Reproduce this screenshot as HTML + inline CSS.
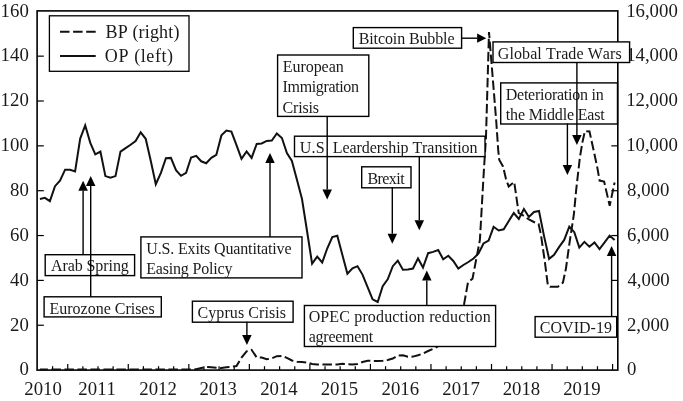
<!DOCTYPE html>
<html><head><meta charset="utf-8"><style>
html,body{margin:0;padding:0;background:#fff;}
body{width:683px;height:401px;overflow:hidden;}
svg{display:block;filter:grayscale(1);}
text{font-family:"Liberation Serif", serif;fill:#1a1a1a;font-kerning:none;}
.ax{font-size:18.8px;}
.lg{font-size:18px;}
.an{font-size:16px;}
</style></head><body>
<svg width="683" height="401" viewBox="0 0 683 401">
<rect width="683" height="401" fill="#fff"/>
<rect x="37.1" y="10.9" width="580.7" height="359.2" fill="none" stroke="#000" stroke-width="1.6"/>
<line x1="37.1" y1="325.25" x2="43.800000000000004" y2="325.25" stroke="#000" stroke-width="1.2"/>
<line x1="611.3" y1="325.25" x2="617.8" y2="325.25" stroke="#000" stroke-width="1.2"/>
<line x1="37.1" y1="280.40" x2="43.800000000000004" y2="280.40" stroke="#000" stroke-width="1.2"/>
<line x1="611.3" y1="280.40" x2="617.8" y2="280.40" stroke="#000" stroke-width="1.2"/>
<line x1="37.1" y1="235.55" x2="43.800000000000004" y2="235.55" stroke="#000" stroke-width="1.2"/>
<line x1="611.3" y1="235.55" x2="617.8" y2="235.55" stroke="#000" stroke-width="1.2"/>
<line x1="37.1" y1="190.70" x2="43.800000000000004" y2="190.70" stroke="#000" stroke-width="1.2"/>
<line x1="611.3" y1="190.70" x2="617.8" y2="190.70" stroke="#000" stroke-width="1.2"/>
<line x1="37.1" y1="145.85" x2="43.800000000000004" y2="145.85" stroke="#000" stroke-width="1.2"/>
<line x1="611.3" y1="145.85" x2="617.8" y2="145.85" stroke="#000" stroke-width="1.2"/>
<line x1="37.1" y1="101.00" x2="43.800000000000004" y2="101.00" stroke="#000" stroke-width="1.2"/>
<line x1="611.3" y1="101.00" x2="617.8" y2="101.00" stroke="#000" stroke-width="1.2"/>
<line x1="37.1" y1="56.15" x2="43.800000000000004" y2="56.15" stroke="#000" stroke-width="1.2"/>
<line x1="611.3" y1="56.15" x2="617.8" y2="56.15" stroke="#000" stroke-width="1.2"/>
<line x1="52.59" y1="370.1" x2="52.59" y2="366.20000000000005" stroke="#000" stroke-width="1.2"/>
<line x1="67.73" y1="370.1" x2="67.73" y2="363.90000000000003" stroke="#000" stroke-width="1.2"/>
<line x1="82.87" y1="370.1" x2="82.87" y2="366.20000000000005" stroke="#000" stroke-width="1.2"/>
<line x1="98.00" y1="370.1" x2="98.00" y2="366.20000000000005" stroke="#000" stroke-width="1.2"/>
<line x1="113.13" y1="370.1" x2="113.13" y2="366.20000000000005" stroke="#000" stroke-width="1.2"/>
<line x1="128.27" y1="370.1" x2="128.27" y2="363.90000000000003" stroke="#000" stroke-width="1.2"/>
<line x1="143.41" y1="370.1" x2="143.41" y2="366.20000000000005" stroke="#000" stroke-width="1.2"/>
<line x1="158.54" y1="370.1" x2="158.54" y2="366.20000000000005" stroke="#000" stroke-width="1.2"/>
<line x1="173.68" y1="370.1" x2="173.68" y2="366.20000000000005" stroke="#000" stroke-width="1.2"/>
<line x1="188.81" y1="370.1" x2="188.81" y2="363.90000000000003" stroke="#000" stroke-width="1.2"/>
<line x1="203.94" y1="370.1" x2="203.94" y2="366.20000000000005" stroke="#000" stroke-width="1.2"/>
<line x1="219.08" y1="370.1" x2="219.08" y2="366.20000000000005" stroke="#000" stroke-width="1.2"/>
<line x1="234.22" y1="370.1" x2="234.22" y2="366.20000000000005" stroke="#000" stroke-width="1.2"/>
<line x1="249.35" y1="370.1" x2="249.35" y2="363.90000000000003" stroke="#000" stroke-width="1.2"/>
<line x1="264.49" y1="370.1" x2="264.49" y2="366.20000000000005" stroke="#000" stroke-width="1.2"/>
<line x1="279.62" y1="370.1" x2="279.62" y2="366.20000000000005" stroke="#000" stroke-width="1.2"/>
<line x1="294.75" y1="370.1" x2="294.75" y2="366.20000000000005" stroke="#000" stroke-width="1.2"/>
<line x1="309.89" y1="370.1" x2="309.89" y2="363.90000000000003" stroke="#000" stroke-width="1.2"/>
<line x1="325.02" y1="370.1" x2="325.02" y2="366.20000000000005" stroke="#000" stroke-width="1.2"/>
<line x1="340.16" y1="370.1" x2="340.16" y2="366.20000000000005" stroke="#000" stroke-width="1.2"/>
<line x1="355.29" y1="370.1" x2="355.29" y2="366.20000000000005" stroke="#000" stroke-width="1.2"/>
<line x1="370.43" y1="370.1" x2="370.43" y2="363.90000000000003" stroke="#000" stroke-width="1.2"/>
<line x1="385.56" y1="370.1" x2="385.56" y2="366.20000000000005" stroke="#000" stroke-width="1.2"/>
<line x1="400.70" y1="370.1" x2="400.70" y2="366.20000000000005" stroke="#000" stroke-width="1.2"/>
<line x1="415.83" y1="370.1" x2="415.83" y2="366.20000000000005" stroke="#000" stroke-width="1.2"/>
<line x1="430.97" y1="370.1" x2="430.97" y2="363.90000000000003" stroke="#000" stroke-width="1.2"/>
<line x1="446.10" y1="370.1" x2="446.10" y2="366.20000000000005" stroke="#000" stroke-width="1.2"/>
<line x1="461.24" y1="370.1" x2="461.24" y2="366.20000000000005" stroke="#000" stroke-width="1.2"/>
<line x1="476.38" y1="370.1" x2="476.38" y2="366.20000000000005" stroke="#000" stroke-width="1.2"/>
<line x1="491.51" y1="370.1" x2="491.51" y2="363.90000000000003" stroke="#000" stroke-width="1.2"/>
<line x1="506.64" y1="370.1" x2="506.64" y2="366.20000000000005" stroke="#000" stroke-width="1.2"/>
<line x1="521.78" y1="370.1" x2="521.78" y2="366.20000000000005" stroke="#000" stroke-width="1.2"/>
<line x1="536.91" y1="370.1" x2="536.91" y2="366.20000000000005" stroke="#000" stroke-width="1.2"/>
<line x1="552.05" y1="370.1" x2="552.05" y2="363.90000000000003" stroke="#000" stroke-width="1.2"/>
<line x1="567.19" y1="370.1" x2="567.19" y2="366.20000000000005" stroke="#000" stroke-width="1.2"/>
<line x1="582.32" y1="370.1" x2="582.32" y2="366.20000000000005" stroke="#000" stroke-width="1.2"/>
<line x1="597.46" y1="370.1" x2="597.46" y2="366.20000000000005" stroke="#000" stroke-width="1.2"/>
<line x1="612.59" y1="370.1" x2="612.59" y2="363.90000000000003" stroke="#000" stroke-width="1.2"/>
<text x="19.42" y="375.4" class="ax">0</text>
<text x="10.02" y="330.55" class="ax">20</text>
<text x="10.02" y="285.7" class="ax">40</text>
<text x="10.02" y="240.85" class="ax">60</text>
<text x="10.02" y="196.0" class="ax">80</text>
<text x="0.62" y="151.15" class="ax">100</text>
<text x="0.62" y="106.3" class="ax">120</text>
<text x="0.62" y="61.45" class="ax">140</text>
<text x="0.62" y="16.6" class="ax">160</text>
<text x="627.08" y="375.4" class="ax">0</text>
<text x="626.97" y="330.55" class="ax">2,000</text>
<text x="627.43" y="285.7" class="ax">4,000</text>
<text x="626.99" y="240.85" class="ax">6,000</text>
<text x="627.08" y="196.0" class="ax">8,000</text>
<text x="626.15" y="151.15" class="ax">10,000</text>
<text x="626.15" y="106.3" class="ax">12,000</text>
<text x="626.15" y="61.45" class="ax">14,000</text>
<text x="626.15" y="16.6" class="ax">16,000</text>
<text x="24.34" y="394.6" class="ax">2010</text>
<text x="78.35" y="394.6" class="ax">2011</text>
<text x="139.31" y="394.6" class="ax">2012</text>
<text x="199.45" y="394.6" class="ax">2013</text>
<text x="260.13" y="394.6" class="ax">2014</text>
<text x="320.65" y="394.6" class="ax">2015</text>
<text x="381.57" y="394.6" class="ax">2016</text>
<text x="442.26" y="394.6" class="ax">2017</text>
<text x="502.64" y="394.6" class="ax">2018</text>
<text x="563.17" y="394.6" class="ax">2019</text>
<polyline points="39.9,369.4 44.9,369.4 49.9,369.4 55.0,369.4 60.0,369.4 65.1,369.4 70.1,369.4 75.1,369.4 80.2,369.4 85.2,369.4 90.3,369.4 95.3,369.4 100.4,369.4 105.4,369.4 110.4,369.4 115.5,369.4 120.5,369.4 125.6,369.4 130.6,369.4 135.6,369.4 140.7,369.4 145.7,369.4 150.8,369.4 155.8,369.4 160.9,369.4 165.9,369.4 170.9,369.4 176.0,369.4 181.0,369.4 186.1,369.4 191.1,369.4 196.2,369.2 201.2,368.0 206.2,366.8 211.3,367.3 216.3,367.7 221.4,368.0 226.4,367.2 231.4,366.8 236.5,366.0 241.5,357.5 246.6,351.3 251.6,349.8 256.7,357.5 261.7,357.5 266.7,359.3 271.8,358.3 276.8,356.2 281.9,355.9 286.9,357.8 291.9,360.5 297.0,361.8 302.0,362.0 307.1,362.5 312.1,364.0 317.1,364.6 322.2,364.6 327.2,364.6 332.3,364.6 337.3,364.4 342.4,363.8 347.4,364.2 352.4,364.4 357.5,363.9 362.5,362.0 367.6,360.7 372.6,361.0 377.7,361.0 382.7,360.8 387.7,360.0 392.8,358.5 397.8,355.5 402.9,355.2 407.9,356.8 413.0,356.6 418.0,355.3 423.0,353.5 428.1,351.0 433.1,348.8 438.2,346.3 443.2,340.0 448.3,333.0 453.3,325.0 458.3,315.0 463.4,308.0 468.0,282.2 472.5,278.8 479.9,240.0 483.6,175.0 486.0,137.0 489.0,32.0 496.3,122.0 498.2,150.0 499.2,159.7 503.0,166.4 506.0,179.0 508.7,186.5 514.2,182.0 518.7,213.0 523.9,216.0 528.9,219.5 533.9,222.0 538.6,224.0 541.0,235.0 545.0,262.8 547.9,285.7 549.9,286.7 557.9,286.7 562.9,282.7 565.9,268.8 569.8,240.9 573.8,215.0 576.2,189.7 579.9,157.3 582.4,142.4 584.9,131.2 589.5,131.5 593.5,149.7 597.3,167.6 599.6,180.6 604.1,181.5 609.7,205.8 614.6,182.5" fill="none" stroke="#111" stroke-width="2" stroke-dasharray="9.5 3.5" stroke-dashoffset="1.5" stroke-linejoin="miter"/>
<polyline points="39.9,199.0 44.9,197.8 49.9,201.1 55.0,186.2 60.0,180.6 65.1,169.7 70.1,169.7 75.1,171.5 80.2,138.6 85.2,125.4 90.3,142.9 95.3,154.3 100.4,151.6 105.4,176.1 110.4,177.8 115.5,176.1 120.5,151.6 125.6,148.2 130.6,144.8 135.6,141.0 140.7,132.3 145.7,138.8 150.8,161.0 155.8,184.2 160.9,172.9 165.9,158.3 170.9,157.9 176.0,170.2 181.0,175.8 186.1,172.9 191.1,157.5 196.2,155.9 201.2,161.3 206.2,163.3 211.3,157.9 216.3,154.9 221.4,135.4 226.4,130.6 231.4,131.6 236.5,145.2 241.5,158.9 246.6,151.5 251.6,157.9 256.7,143.9 261.7,143.5 266.7,140.9 271.8,140.5 276.8,133.5 281.9,138.0 286.9,153.0 291.9,161.0 297.0,180.0 302.0,199.0 307.1,231.5 312.1,263.7 317.2,256.7 322.2,262.5 327.2,248.5 332.3,237.0 337.3,235.8 342.4,255.0 347.4,273.7 352.5,268.4 357.5,266.2 362.5,274.6 367.6,287.1 372.6,299.3 377.7,302.0 382.7,286.2 387.7,279.3 392.8,266.2 397.8,260.6 402.9,269.7 407.9,269.4 413.0,268.5 418.0,258.4 423.0,267.5 428.1,253.2 433.1,251.9 438.2,250.0 443.2,259.3 448.3,255.8 453.3,261.0 458.3,268.5 463.4,265.0 468.4,262.0 473.5,258.5 478.5,253.5 483.5,243.5 488.6,240.5 493.6,226.8 498.7,230.5 503.7,229.3 508.8,220.9 513.8,213.0 518.8,218.9 523.9,209.0 528.9,217.0 534.0,212.0 539.0,211.0 544.0,235.9 549.1,258.9 554.1,254.9 559.2,246.9 564.2,239.9 569.3,226.6 574.3,232.2 579.3,247.6 584.4,241.9 589.4,246.7 594.5,242.4 599.5,249.0 604.6,242.4 609.6,235.6 614.6,240.0" fill="none" stroke="#111" stroke-width="2" stroke-linejoin="miter" stroke-miterlimit="4"/>
<rect x="49.4" y="15.8" width="139.6" height="55.5" fill="#fff" stroke="#000" stroke-width="1.3"/>
<line x1="60" y1="31.8" x2="95.7" y2="31.8" stroke="#111" stroke-width="2" stroke-dasharray="9.5 3.6"/>
<line x1="60" y1="56.1" x2="95.7" y2="56.1" stroke="#111" stroke-width="2"/>
<text x="105.48" y="37.5" class="lg" style="letter-spacing:0.157px">BP (right)</text>
<text x="104.86" y="62.4" class="lg" style="letter-spacing:0.593px">OP (left)</text>
<rect x="353.3" y="27.6" width="108.3" height="20.6" fill="#fff" stroke="#000" stroke-width="1.4"/>
<text x="358.74" y="44.0" class="an" style="letter-spacing:-0.116px">Bitcoin Bubble</text>
<line x1="461.6" y1="38.2" x2="477.1" y2="38.2" stroke="#000" stroke-width="1.4"/>
<polygon points="477.1,33.6 477.1,42.800000000000004 486.3,38.2" fill="#000"/>
<rect x="277.6" y="55" width="91.2" height="61.4" fill="#fff" stroke="#000" stroke-width="1.4"/>
<text x="282.74" y="71.7" class="an" style="letter-spacing:-0.043px">European</text>
<text x="282.62" y="92.2" class="an" style="letter-spacing:-0.366px">Immigration</text>
<text x="282.54" y="112.7" class="an" style="letter-spacing:-0.182px">Crisis</text>
<rect x="294.5" y="136.2" width="190.5" height="20.4" fill="#fff" stroke="#000" stroke-width="1.4"/>
<text x="299.66" y="152.8" class="an" style="letter-spacing:0.238px">U.S</text>
<text x="332.84" y="152.8" class="an" style="letter-spacing:-0.070px">Leardership Transition</text>
<line x1="327.2" y1="115.9" x2="327.2" y2="189.4" stroke="#000" stroke-width="1.4"/>
<polygon points="322.45,189.4 331.95,189.4 327.2,199.4" fill="#000"/>
<rect x="361.7" y="166.8" width="49.3" height="21.0" fill="#fff" stroke="#000" stroke-width="1.4"/>
<text x="367.54" y="184.2" class="an" style="letter-spacing:-0.588px">Brexit</text>
<line x1="392.3" y1="187.3" x2="392.3" y2="233.7" stroke="#000" stroke-width="1.4"/>
<polygon points="387.55,233.7 397.05,233.7 392.3,243.7" fill="#000"/>
<line x1="419.3" y1="156.1" x2="419.3" y2="220.2" stroke="#000" stroke-width="1.4"/>
<polygon points="414.55,220.2 424.05,220.2 419.3,230.2" fill="#000"/>
<rect x="493" y="41.9" width="136.6" height="20.6" fill="#fff" stroke="#000" stroke-width="1.4"/>
<text x="497.84" y="58.6" class="an" style="letter-spacing:0.077px">Global Trade Wars</text>
<rect x="500.7" y="82.9" width="116.8" height="41.1" fill="#fff" stroke="#000" stroke-width="1.4"/>
<text x="505.74" y="99.9" class="an" style="letter-spacing:-0.256px">Deterioration in</text>
<text x="505.84" y="119.9" class="an" style="letter-spacing:-0.169px">the Middle East</text>
<line x1="576.9" y1="62" x2="576.9" y2="135" stroke="#000" stroke-width="1.4"/>
<polygon points="572.15,135 581.65,135 576.9,145" fill="#000"/>
<line x1="567.4" y1="123.5" x2="567.4" y2="165" stroke="#000" stroke-width="1.4"/>
<polygon points="562.65,165 572.15,165 567.4,175" fill="#000"/>
<rect x="140.9" y="236.9" width="161.1" height="41.0" fill="#fff" stroke="#000" stroke-width="1.4"/>
<text x="146.26" y="254.0" class="an" style="letter-spacing:-0.143px">U.S. Exits Quantitative</text>
<text x="146.14" y="273.6" class="an" style="letter-spacing:-0.168px">Easing Policy</text>
<line x1="270" y1="236.9" x2="270" y2="163" stroke="#000" stroke-width="1.4"/>
<polygon points="265.25,163 274.75,163 270,153" fill="#000"/>
<rect x="45.2" y="254.7" width="89.4" height="20.9" fill="#fff" stroke="#000" stroke-width="1.4"/>
<text x="51.04" y="271.4" class="an" style="letter-spacing:-0.090px">Arab Spring</text>
<line x1="83.1" y1="254.7" x2="83.1" y2="190.7" stroke="#000" stroke-width="1.4"/>
<polygon points="78.35,190.7 87.85,190.7 83.1,180.7" fill="#000"/>
<rect x="44.1" y="296.8" width="117.2" height="20.1" fill="#fff" stroke="#000" stroke-width="1.4"/>
<text x="49.54" y="313.6" class="an" style="letter-spacing:-0.012px">Eurozone Crises</text>
<line x1="90.7" y1="296.8" x2="90.7" y2="186.1" stroke="#000" stroke-width="1.4"/>
<polygon points="85.95,186.1 95.45,186.1 90.7,176.1" fill="#000"/>
<rect x="192.4" y="301.2" width="100.7" height="21.0" fill="#fff" stroke="#000" stroke-width="1.4"/>
<text x="197.54" y="318.1" class="an" style="letter-spacing:0.080px">Cyprus Crisis</text>
<line x1="246.9" y1="321.7" x2="246.9" y2="335" stroke="#000" stroke-width="1.4"/>
<polygon points="242.15,335 251.65,335 246.9,345" fill="#000"/>
<rect x="304.4" y="305.5" width="191.2" height="41.0" fill="#fff" stroke="#000" stroke-width="1.4"/>
<text x="308.64" y="322.3" class="an" style="letter-spacing:0.144px">OPEC production reduction</text>
<text x="308.74" y="342.3" class="an" style="letter-spacing:-0.259px">agreement</text>
<line x1="426.8" y1="305.5" x2="426.8" y2="280.5" stroke="#000" stroke-width="1.4"/>
<polygon points="422.05,280.5 431.55,280.5 426.8,270.5" fill="#000"/>
<rect x="535.1" y="316.6" width="81.6" height="20.6" fill="#fff" stroke="#000" stroke-width="1.4"/>
<text x="539.84" y="333.1" class="an" style="letter-spacing:0.017px">COVID-19</text>
<line x1="611.6" y1="316.8" x2="611.6" y2="255.9" stroke="#000" stroke-width="1.4"/>
<polygon points="606.85,255.9 616.35,255.9 611.6,245.9" fill="#000"/>
</svg>
</body></html>
